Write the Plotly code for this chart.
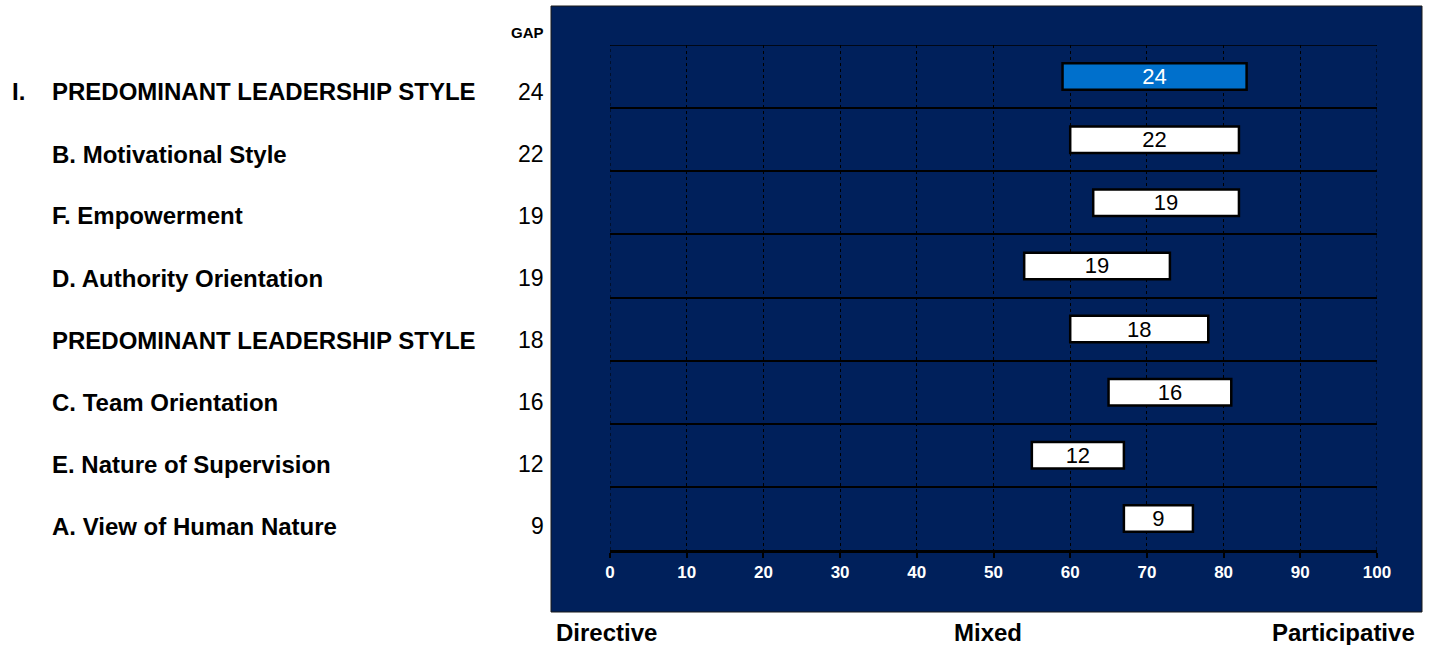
import plotly.graph_objects as go

# Leadership style dimensions, top to bottom
categories = [
    "PREDOMINANT LEADERSHIP STYLE",
    "B. Motivational Style",
    "F. Empowerment",
    "D. Authority Orientation",
    "PREDOMINANT LEADERSHIP STYLE",
    "C. Team Orientation",
    "E. Nature of Supervision",
    "A. View of Human Nature",
]
prefixes = ["I.", "", "", "", "", "", "", ""]
range_start = [59, 60, 63, 54, 60, 65, 55, 67]
gap = [24, 22, 19, 19, 18, 16, 12, 9]
scale_ticks = [0, 10, 20, 30, 40, 50, 60, 70, 80, 90, 100]
scale_names = ["Directive", "Mixed", "Participative"]

W, H = 1432, 645
ML, MR, MT, MB = 610, 55, 45, 95
PW, PH = W - ML - MR, H - MT - MB

FONT = "Liberation Sans, Arial, sans-serif"
NAVY = "#00205B"


def px_x(p):
    return (p - ML) / PW


def px_y(p):
    return (H - MB - p) / PH


n = len(categories)
ypos = [n - 0.5 - i for i in range(n)]
fills = ["#0070CC"] + ["#FFFFFF"] * (n - 1)
text_colors = ["#FFFFFF"] + ["#000000"] * (n - 1)

fig = go.Figure(
    go.Bar(
        orientation="h",
        y=ypos,
        x=gap,
        base=range_start,
        width=0.42,
        marker=dict(color=fills, line=dict(color="#000000", width=2.5)),
        text=[str(g) for g in gap],
        textposition="inside",
        insidetextanchor="middle",
        textangle=0,
        constraintext="none",
        textfont=dict(family=FONT, size=22, color=text_colors),
        hoverinfo="skip",
    )
)

annotations = []
for i, (name, pre, g) in enumerate(zip(categories, prefixes, gap)):
    ly = px_y(92 + 62 * i)
    if pre:
        annotations.append(dict(text=pre, x=px_x(10), y=ly, xref="paper", yref="paper",
                                xanchor="left", yanchor="middle", showarrow=False,
                                font=dict(family=FONT, size=24, color="#000000", weight="bold")))
    annotations.append(dict(text=name, x=px_x(50), y=ly, xref="paper", yref="paper",
                            xanchor="left", yanchor="middle", showarrow=False,
                            font=dict(family=FONT, size=24, color="#000000", weight="bold")))
    annotations.append(dict(text=str(g), x=px_x(546), y=ly, xref="paper", yref="paper",
                            xanchor="right", yanchor="middle", showarrow=False,
                            font=dict(family=FONT, size=23, color="#000000")))

annotations.append(dict(text="GAP", x=px_x(546), y=px_y(33), xref="paper", yref="paper",
                        xanchor="right", yanchor="middle", showarrow=False,
                        font=dict(family=FONT, size=15, color="#000000", weight="bold")))

for name, xp, anchor in zip(scale_names, [554, 988, 1417], ["left", "center", "right"]):
    annotations.append(dict(text=name, x=px_x(xp), y=px_y(632), xref="paper", yref="paper",
                            xanchor=anchor, yanchor="middle", showarrow=False,
                            font=dict(family=FONT, size=24, color="#000000", weight="bold")))

# Frame lines of the grid: solid top edge, dotted left/right edges
frame = [
    dict(type="line", xref="x", yref="y", x0=scale_ticks[0], x1=scale_ticks[-1], y0=n, y1=n,
         line=dict(color="#000000", width=1.5), layer="above"),
    dict(type="line", xref="x", yref="y", x0=scale_ticks[0], x1=scale_ticks[0], y0=0, y1=n,
         line=dict(color="#000000", width=1, dash="dot"), layer="above"),
    dict(type="line", xref="x", yref="y", x0=scale_ticks[-1], x1=scale_ticks[-1], y0=0, y1=n,
         line=dict(color="#000000", width=1, dash="dot"), layer="above"),
]

fig.update_layout(
    width=W,
    height=H,
    margin=dict(l=ML, r=MR, t=MT, b=MB, pad=0),
    paper_bgcolor="#FFFFFF",
    plot_bgcolor="rgba(0,0,0,0)",
    showlegend=False,
    annotations=annotations,
    shapes=[
        dict(type="rect", xref="paper", yref="paper", layer="below",
             x0=px_x(551), x1=px_x(1422), y0=px_y(612), y1=px_y(6),
             fillcolor=NAVY, line=dict(color="#1a1a1a", width=1)),
    ] + frame,
    xaxis=dict(
        range=[0, 100],
        tickvals=scale_ticks,
        showgrid=True,
        gridcolor="#000000",
        gridwidth=1,
        griddash="dot",
        zeroline=False,
        showline=True,
        linecolor="#000000",
        linewidth=3,
        ticks="outside",
        ticklen=5,
        tickwidth=2,
        tickcolor="#000000",
        tickfont=dict(family=FONT, size=17, color="#FFFFFF", weight="bold"),
        fixedrange=True,
    ),
    yaxis=dict(
        range=[0, n],
        tickvals=list(range(n + 1)),
        showticklabels=False,
        showgrid=True,
        gridcolor="#000000",
        gridwidth=1.5,
        zeroline=False,
        showline=False,
        ticks="",
        fixedrange=True,
    ),
)

fig.write_html("out.html")
